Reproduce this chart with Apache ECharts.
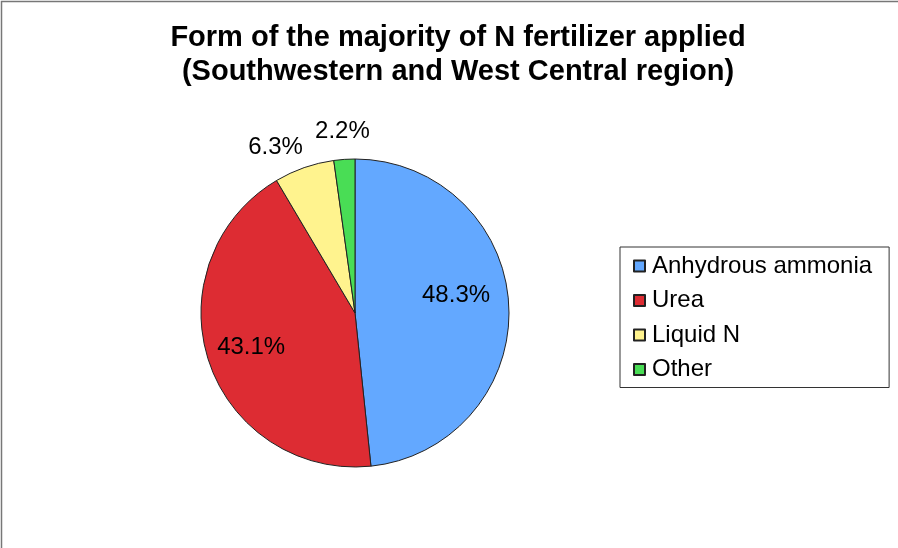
<!DOCTYPE html>
<html>
<head>
<meta charset="utf-8">
<script src="https://cdn.jsdelivr.net/npm/echarts@6/dist/echarts.min.js"></script>
<style>
  html, body { margin: 0; padding: 0; background: #fff; }
  #main { width: 898px; height: 548px; }
</style>
</head>
<body>
<div id="main"></div>
<script>
var categories = ['Anhydrous ammonia', 'Urea', 'Liquid N', 'Other'];
var shares = [48.3, 43.1, 6.3, 2.2];
var colors = ['#63A8FF', '#DD2C33', '#FFF38E', '#49DD55'];

// label placement (fraction of the pie radius, plus a small pixel nudge)
var labelDist = [0.67, 0.71, 1.19, 1.185];
var labelNudge = [[-2, -12], [0, 0], [-19, 7], [0, 0]];

var FONT = 'Liberation Sans, Arial, sans-serif';
var center = [355, 313];
var R = 154;
var POLAR_MAX = 1.4;

var pieData = categories.map(function (name, i) {
  return { name: name, value: shares[i], itemStyle: { color: colors[i] } };
});

// percentage labels placed at the middle angle of every slice (polar coords)
var total = shares.reduce(function (a, b) { return a + b; }, 0);
var acc = 0;
var labelPoints = shares.map(function (v, i) {
  var mid = acc + v / 2;
  acc += v;
  return { value: [labelDist[i], mid / total * 100], pct: v };
});

var chart = echarts.init(document.getElementById('main'));
chart.setOption({
  animation: false,
  backgroundColor: '#fff',
  graphic: [{
    type: 'rect',
    shape: { x: 1.5, y: 1.5, width: 1000, height: 1000 },
    style: { fill: 'none', stroke: '#777', lineWidth: 1.5 },
    silent: true
  }],
  title: {
    text: 'Form of the majority of N fertilizer applied\n(Southwestern and West Central region)',
    left: 453,
    textAlign: 'center',
    top: 16,
    textStyle: {
      fontFamily: FONT,
      fontWeight: 'bold',
      fontSize: 29,
      lineHeight: 34,
      color: '#000'
    }
  },
  legend: {
    orient: 'vertical',
    left: 620,
    top: 247,
    data: categories,
    icon: 'rect',
    itemWidth: 11,
    itemHeight: 11,
    itemGap: 10.5,
    padding: [7, 17, 6, 13],
    borderColor: '#333',
    borderWidth: 1,
    backgroundColor: '#fff',
    textStyle: {
      fontFamily: FONT,
      fontSize: 24,
      lineHeight: 24,
      color: '#000',
      padding: [0, 0, 0, 2]
    }
  },
  polar: { center: center, radius: R * POLAR_MAX },
  angleAxis: {
    type: 'value', min: 0, max: 100, startAngle: 90, clockwise: true, show: false
  },
  radiusAxis: { type: 'value', min: 0, max: POLAR_MAX, show: false },
  series: [
    {
      type: 'pie',
      center: center,
      radius: [0, R],
      startAngle: 90,
      clockwise: true,
      data: pieData,
      label: { show: false },
      labelLine: { show: false },
      itemStyle: { borderColor: '#222', borderWidth: 1 },
      emphasis: { disabled: true }
    },
    {
      type: 'scatter',
      coordinateSystem: 'polar',
      silent: true,
      clip: false,
      symbolSize: 0,
      itemStyle: { opacity: 1, color: '#000' },
      data: labelPoints,
      label: {
        show: true,
        position: 'inside',
        formatter: function (p) { return p.data.pct.toFixed(1) + '%'; },
        fontFamily: FONT,
        fontSize: 24,
        color: '#000',
        textBorderWidth: 0
      },
      labelLayout: function (params) {
        var n = labelNudge[params.dataIndex];
        return { dx: n[0], dy: n[1], hideOverlap: false };
      },
      emphasis: { disabled: true }
    }
  ]
});
</script>
</body>
</html>
